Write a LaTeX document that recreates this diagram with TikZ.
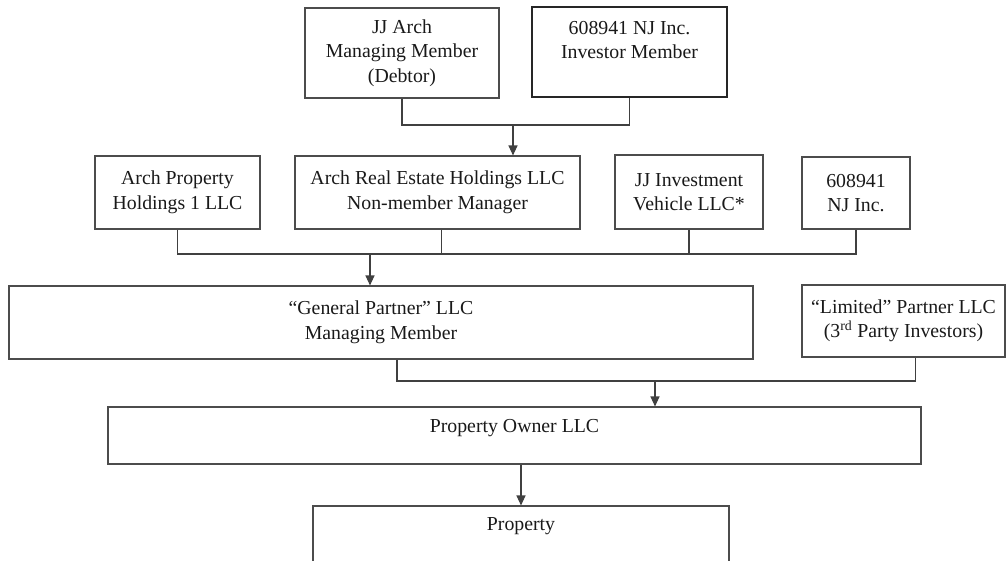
\documentclass[tikz,border=0pt]{standalone}
\usepackage{fontspec}
\setmainfont{Liberation Serif}
\usetikzlibrary{arrows.meta}
\tikzset{>={Triangle[length=10pt,width=9pt]}}

\begin{document}
\begin{tikzpicture}[x=1pt,y=-1pt,
  unit/.style={draw=black!70,line width=1.1pt,align=center,inner sep=0pt,
    font=\fontsize{19.8}{24.5}\selectfont,text=black!90},
  link/.style={draw=black!75,line width=1.1pt}]
  \useasboundingbox (0,0) rectangle (1007,560);
  \clip (0,0) rectangle (1007,560);
  % owners
  \node[unit,minimum width=194pt,minimum height=90pt] (jjarch) at (402,53) {JJ Arch\\Managing Member\\(Debtor)};
  \node[unit,draw=black!85,line width=1.2pt,minimum width=195pt,minimum height=90pt] (njinv) at (629.5,52) {608941 NJ Inc.\\Investor Member\\~};
  % members of the general partner
  \node[unit,minimum width=165pt,minimum height=73pt] (aph) at (177.5,192.5) {Arch Property\\Holdings 1 LLC};
  \node[unit,minimum width=285pt,minimum height=73pt] (arehold) at (437.5,192.5) {Arch Real Estate Holdings LLC\\Non-member Manager};
  \node[unit,minimum width=148pt,minimum height=74pt] (jjiv) at (689,192) {JJ Investment\\Vehicle LLC*};
  \node[unit,minimum width=108pt,minimum height=72pt] (njinc) at (856,193) {608941\\NJ Inc.};
  % partners
  \node[unit,minimum width=744pt,minimum height=73pt] (gp) at (381,322.5) {“General Partner” LLC\\Managing Member};
  \node[unit,minimum width=203pt,minimum height=72pt] (lp) at (903.5,321) {“Limited” Partner LLC\\(3\textsuperscript{rd} Party Investors)};
  \node[unit,minimum width=813pt,minimum height=57pt] (po) at (514.5,435.5) {Property Owner LLC\\[-5pt]~};
  \node[unit,minimum width=416pt,minimum height=56pt] (prop) at (521,534) {Property\\[-5pt]~};

  \coordinate (topbus) at (513,125);
  \draw[link] (jjarch.south) |- (topbus) -| (njinv.south);
  \draw[link,->] (topbus) -- (topbus |- arehold.north);

  \coordinate (midbus) at (370,254);
  \draw[link] (aph.south) |- (midbus) -| (njinc.south);
  \draw[link] ([xshift=4pt]arehold.south) -- ([xshift=4pt]arehold.south |- midbus);
  \draw[link] (jjiv.south) -- (jjiv.south |- midbus);
  \draw[link,->] (midbus) -- (midbus |- gp.north);

  \coordinate (lowbus) at (655,381);
  \draw[link] ([xshift=16pt]gp.south) |- (lowbus) -| ([xshift=12pt]lp.south);
  \draw[link,->] (lowbus) -- (lowbus |- po.north);
  \draw[link,->] (po.south -| prop.north) -- (prop.north);
\end{tikzpicture}
\end{document}
